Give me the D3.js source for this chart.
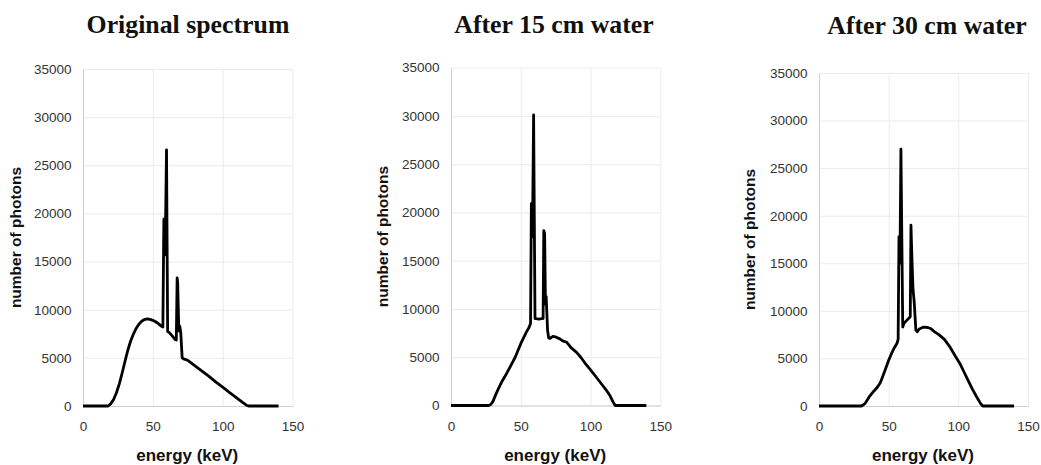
<!DOCTYPE html>
<html>
<head>
<meta charset="utf-8">
<script src="https://cdn.jsdelivr.net/npm/d3@7"></script>
<style>
  html, body { margin: 0; padding: 0; background: #fff; }
  svg { display: block; }
</style>
</head>
<body>
<svg id="chart" width="1041" height="465"></svg>
<script>
// Photon spectra (energy in keV, photon counts)
const energyOriginal = [0, 18, 20, 22, 24, 26, 28, 30, 32, 34, 36, 38, 40, 42, 44, 46, 48, 50, 52, 54, 56, 57.2, 57.9, 58.8, 59.8, 60.6, 62, 64, 66, 66.8, 67.4, 67.8, 68.6, 69.3, 70, 71, 72, 75, 80, 85, 90, 95, 100, 105, 110, 114, 117, 118.5, 140];
const photonsOriginal = [0, 0, 250, 700, 1400, 2300, 3400, 4600, 5750, 6700, 7450, 8050, 8500, 8800, 8980, 9050, 9000, 8900, 8750, 8550, 8300, 8200, 19400, 15700, 26600, 7750, 7600, 7250, 6900, 6850, 13300, 12800, 7800, 8300, 7600, 5000, 4900, 4750, 4200, 3650, 3100, 2500, 1950, 1400, 850, 400, 80, 0, 0];

const energy15cm = [0, 27, 28.5, 30, 32, 34, 36, 38, 40, 42, 44, 46, 48, 50, 52, 54, 56, 57, 57.6, 58.4, 59.2, 60.2, 61, 63, 65, 66, 66.5, 67.1, 67.7, 68.2, 69.2, 70, 71, 73, 75, 78, 80, 83, 86, 90, 93, 96, 100, 104, 108, 111, 114, 116, 117.7, 140];
const photons15cm = [0, 0, 100, 400, 1100, 1750, 2350, 2850, 3350, 3900, 4450, 5000, 5700, 6400, 7000, 7600, 8100, 8500, 20900, 17500, 30100, 9000, 9000, 8950, 9000, 9000, 18100, 17800, 10500, 11300, 7800, 7000, 6950, 7150, 7100, 6900, 6700, 6550, 6000, 5500, 5000, 4400, 3700, 2950, 2200, 1650, 1000, 400, 0, 0];

const energy30cm = [0, 30.5, 33, 36, 39, 42, 44, 46, 48, 50, 52, 54, 56, 56.8, 57.4, 58.1, 58.8, 60.1, 61, 63, 65, 65.5, 66, 66.7, 67.5, 68.3, 69.5, 70.5, 72, 75, 78, 80, 83, 86, 90, 94, 98, 101, 104, 107, 110, 113, 116, 117.5, 140];
const photons30cm = [0, 0, 250, 950, 1500, 2000, 2450, 3200, 4000, 4800, 5500, 6100, 6600, 7000, 17800, 15000, 27000, 8300, 8700, 9000, 9300, 9400, 19000, 15500, 12200, 11000, 8000, 7800, 8100, 8300, 8250, 8150, 7800, 7500, 7000, 6200, 5200, 4500, 3600, 2700, 1800, 1000, 250, 0, 0];

const panelTitles = ["Original spectrum", "After 15 cm water", "After 30 cm water"];
const xTicks = [0, 50, 100, 150];
const yTicks = [0, 5000, 10000, 15000, 20000, 25000, 30000, 35000];
const xAxisLabel = "energy (keV)";
const yAxisLabel = "number of photons";

const series = [
  { title: panelTitles[0], energy: energyOriginal, photons: photonsOriginal },
  { title: panelTitles[1], energy: energy15cm, photons: photons15cm },
  { title: panelTitles[2], energy: energy30cm, photons: photons30cm }
];

// Plot frames for the three panels
const frames = [
  { left: 83,  right: 292.5, top: 69,   bottom: 406,   titleX: 188, titleY: 32.5, yLabelX: 21 },
  { left: 451, right: 660.3, top: 67.6, bottom: 405.5, titleX: 554, titleY: 32.5, yLabelX: 388 },
  { left: 819, right: 1028,  top: 73,   bottom: 406,   titleX: 927, titleY: 33.5, yLabelX: 755 }
];

const svg = d3.select("#chart");
const sans = "'Liberation Sans', Arial, sans-serif";

series.forEach((s, i) => {
  const f = frames[i];
  const x = d3.scaleLinear().domain([0, 150]).range([f.left, f.right]);
  const y = d3.scaleLinear().domain([0, 35000]).range([f.bottom, f.top]);
  const g = svg.append("g");

  // horizontal grid
  g.append("g")
    .attr("transform", `translate(${f.left},0)`)
    .call(d3.axisLeft(y).tickValues(yTicks).tickSize(-(f.right - f.left)).tickFormat(""))
    .call(a => a.select(".domain").remove())
    .call(a => a.selectAll("line").attr("stroke", "#ebebeb").attr("stroke-width", 1));

  // vertical grid
  g.append("g")
    .attr("transform", `translate(0,${f.bottom})`)
    .call(d3.axisBottom(x).tickValues(xTicks.slice(1)).tickSize(-(f.bottom - f.top)).tickFormat(""))
    .call(a => a.select(".domain").remove())
    .call(a => a.selectAll("line").attr("stroke", "#ebebeb").attr("stroke-width", 1));

  // y axis
  g.append("g")
    .attr("transform", `translate(${f.left},0)`)
    .call(d3.axisLeft(y).tickValues(yTicks).tickSize(0).tickPadding(11.5).tickFormat(d3.format("d")))
    .call(a => a.select(".domain").attr("stroke", "#cfcfcf"))
    .call(a => a.selectAll("text")
      .attr("fill", "#333").style("font-family", sans).style("font-size", "13.5px"));

  // x axis
  g.append("g")
    .attr("transform", `translate(0,${f.bottom})`)
    .call(d3.axisBottom(x).tickValues(xTicks).tickSize(0).tickPadding(15.5).tickFormat(d3.format("d")))
    .call(a => a.select(".domain").attr("stroke", "#cfcfcf"))
    .call(a => a.selectAll("text")
      .attr("fill", "#333").style("font-family", sans).style("font-size", "13.5px"));

  // spectrum line
  const pts = s.energy.map((e, k) => [e, s.photons[k]]);
  g.append("path")
    .datum(pts)
    .attr("fill", "none")
    .attr("stroke", "#000")
    .attr("stroke-width", 2.8)
    .attr("stroke-linejoin", "round")
    .attr("d", d3.line().x(d => x(d[0])).y(d => y(d[1])));

  // title
  g.append("text")
    .attr("x", f.titleX).attr("y", f.titleY)
    .attr("text-anchor", "middle")
    .style("font-family", "'Liberation Serif', 'Times New Roman', serif")
    .style("font-weight", "bold").style("font-size", "25.8px")
    .attr("fill", "#111")
    .text(s.title);

  // axis titles
  g.append("text")
    .attr("x", (f.left + f.right) / 2 - 0.5).attr("y", 460.5)
    .attr("text-anchor", "middle")
    .style("font-family", sans).style("font-weight", "bold").style("font-size", "17px")
    .attr("fill", "#111")
    .text(xAxisLabel);

  g.append("text")
    .attr("transform", `translate(${f.yLabelX},${(f.top + f.bottom) / 2}) rotate(-90)`)
    .attr("text-anchor", "middle")
    .style("font-family", sans).style("font-weight", "bold").style("font-size", "15.5px")
    .attr("fill", "#111")
    .text(yAxisLabel);
});
</script>
</body>
</html>
